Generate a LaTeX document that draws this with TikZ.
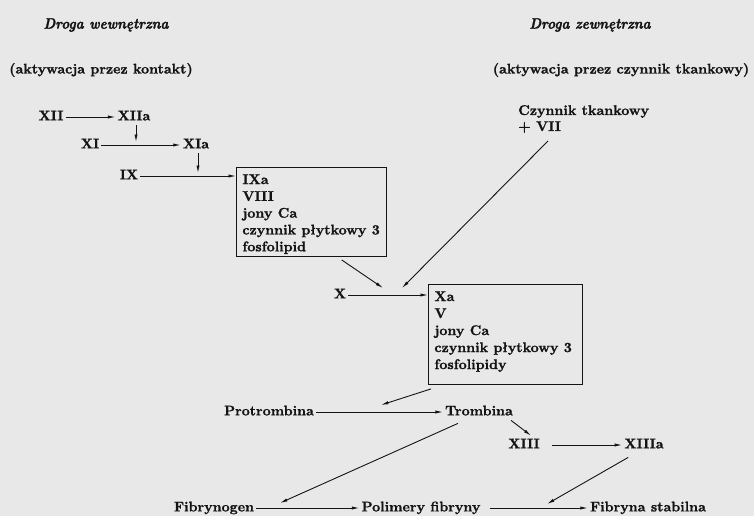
\documentclass[tikz,border=0pt]{standalone}
\usepackage{fontspec}
\usepackage{graphicx}
\setmainfont{lmroman10-regular.otf}[
  BoldFont=lmroman10-bold.otf,
  ItalicFont=lmroman10-italic.otf,
  BoldItalicFont=lmroman10-bolditalic.otf,
  BoldFeatures={FakeBold=1.2},
  BoldItalicFeatures={FakeBold=1.8}]
\usetikzlibrary{arrows.meta,calc}
\definecolor{ink}{RGB}{20,20,20}
\definecolor{paper}{RGB}{232,232,232}
\newcommand{\ttltext}[1]{\scalebox{0.9}[1]{#1}}
\begin{document}
\begin{tikzpicture}[x=1pt,y=-1pt,
  lbl/.style={font=\fontsize{14}{17}\selectfont\bfseries, text=ink, inner sep=2pt, text height=9.6pt, text depth=2.8pt},
  ml/.style={font=\fontsize{14}{16}\selectfont\bfseries, text=ink, inner sep=2pt, align=left},
  ttl/.style={font=\fontsize{15}{18}\selectfont\bfseries\itshape, text=ink},
  sub/.style={font=\fontsize{14}{17}\selectfont\bfseries, text=ink},
  boxn/.style={draw=ink, line width=0.9pt, font=\fontsize{14}{17}\selectfont\bfseries, text=ink, inner xsep=6pt, inner ysep=7pt, anchor=north west},
  arr/.style={draw=ink, line width=0.9pt, -{Latex[length=7.5pt,width=3.2pt]}},
]
\fill[paper] (0,0) rectangle (754,516);
\useasboundingbox (0,0) rectangle (754,516);

\node[ttl] (t1) at (106,25) {\ttltext{Droga wewnętrzna}};
\node[sub] (s1) at (101,70) {(aktywacja przez kontakt)};
\node[ttl] (t2) at (590,25) {\ttltext{Droga zewnętrzna}};
\node[sub] (s2) at (621,70) {(aktywacja przez czynnik tkankowy)};

\node[lbl] (xii) at (51,117) {XII};
\node[lbl] (xiia) at (134,117) {XIIa};
\node[lbl] (xi) at (90,145) {XI};
\node[lbl] (xia) at (196,145) {XIa};
\node[lbl] (ix) at (129,176) {IX};
\node[boxn] (box1) at (236,167) {\parbox[t][75pt][t]{138pt}{\baselineskip=16.8pt IXa\\VIII\\jony Ca\\czynnik płytkowy 3\\fosfolipid}};
\node[ml, anchor=north west] (tf) at (516,103) {Czynnik tkankowy\\+ VII};
\node[lbl] (x) at (340,295) {X};
\node[boxn] (box2) at (428,284) {\parbox[t][86pt][t]{142pt}{\baselineskip=17pt Xa\\V\\jony Ca\\czynnik płytkowy 3\\fosfolipidy}};
\node[lbl] (prot) at (269,412) {Protrombina};
\node[lbl] (trom) at (479,412) {Trombina};
\node[lbl] (xiii) at (524,445) {XIII};
\node[lbl] (xiiia) at (644,445) {XIIIa};
\node[lbl] (fibg) at (214,508) {Fibrynogen};
\node[lbl] (poli) at (421,508) {Polimery fibryny};
\node[lbl] (fibs) at (648,508) {Fibryna stabilna};

\coordinate (j1) at ($(xiia.south |- xi.center)+(2,-3)$);
\coordinate (j2) at ($(xia.south |- ix.center)+(2,-3)$);
\coordinate (j3) at (383,288);
\coordinate (j4) at (402,288);
\coordinate (j5) at (381,405);
\coordinate (j6) at (280,503);
\coordinate (j7) at (547,504);

\draw[arr] (xii) -- (xiia);
\draw[arr] ($(xiia.south)+(2,0)$) -- (j1);
\draw[arr] (xi) -- (xia);
\draw[arr] ($(xia.south)+(2,0)$) -- (j2);
\draw[arr] (ix.east) -- (ix.east -| box1.west);
\draw[arr] ($(box1.south west)!0.7!(box1.south east)+(0,3)$) -- (j3);
\draw[arr] ($(tf.south west)+(32,6)$) -- (j4);
\draw[arr] (x) -- (x -| box2.west);
\draw[arr] ($(box2.south west)+(3,4)$) -- (j5);
\draw[arr] (prot) -- (trom);
\draw[arr] ($(trom.south east)+(-4,0)$) -- ($(xiii.north)+(7,-1)$);
\draw[arr, shorten <=10pt] (xiii) -- (xiiia);
\draw[arr] ($(trom.south west)+(15,3)$) -- (j6);
\draw[arr] (fibg) -- (poli);
\draw[arr, shorten <=7pt] (poli) -- (fibs);
\draw[arr] ($(xiiia.south west)+(6,4)$) -- (j7);
\end{tikzpicture}
\end{document}
